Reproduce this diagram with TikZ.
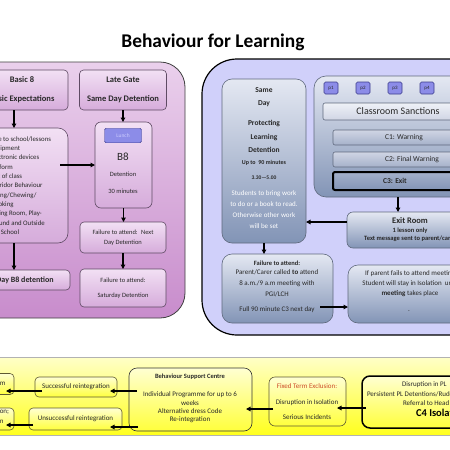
\documentclass[tikz,border=0pt]{standalone}
\usepackage{fontspec}
\setmainfont{Carlito}
\usetikzlibrary{calc,arrows.meta}
\definecolor{txt}{RGB}{40,40,40}
\definecolor{panLT}{RGB}{234,208,236}
\definecolor{panLB}{RGB}{200,140,204}
\definecolor{pinkT}{RGB}{242,224,244}
\definecolor{pinkB}{RGB}{214,172,219}
\definecolor{pinkline}{RGB}{95,75,100}
\definecolor{lav}{RGB}{208,208,250}
\definecolor{blueT}{RGB}{228,232,242}
\definecolor{blueB}{RGB}{130,148,182}
\definecolor{blueline}{RGB}{95,105,125}
\definecolor{pfill}{RGB}{140,140,232}
\definecolor{pline}{RGB}{60,60,140}
\definecolor{cT}{RGB}{208,213,228}
\definecolor{cB}{RGB}{165,177,202}
\definecolor{yelT}{RGB}{255,255,200}
\definecolor{yelB}{RGB}{255,255,30}
\definecolor{ybT}{RGB}{255,255,210}
\definecolor{ybB}{RGB}{255,255,60}
\definecolor{yline}{RGB}{95,90,50}
\definecolor{ftred}{RGB}{205,75,40}
\newcommand\myfs[2]{\fontsize{#1}{#2}\selectfont}
\begin{document}
\begin{tikzpicture}[x=1pt,y=-1pt,
  every node/.style={inner sep=0pt,outer sep=0pt,text=txt},
  arr/.style={draw=black,line width=1.1pt,-{Triangle[length=4.5pt,width=4.5pt]}},
  pinkbox/.style={draw=pinkline,line width=0.6pt,rounded corners=4pt,top color=pinkT,bottom color=pinkB},
  bluebox/.style={draw=blueline,line width=0.6pt,rounded corners=4pt,top color=blueT,bottom color=blueB},
  pbox/.style={draw=pline,line width=0.6pt,fill=pfill,rounded corners=1.5pt,minimum width=14pt,minimum height=12pt,font=\myfs{5}{6}},
  cbox/.style={draw=blueline,line width=0.6pt,rounded corners=2pt,top color=cT,bottom color=cB,font=\myfs{7.5}{9}},
  ybox/.style={draw=yline,line width=0.6pt,rounded corners=4pt,top color=ybT,bottom color=ybB},
  smalltxt/.style={font=\myfs{7}{8}}]
\useasboundingbox (0,0) rectangle (450,450);
\fill[white] (0,0) rectangle (450,450);
\clip (0,0) rectangle (450,450);

\node[font=\myfs{19.4}{22}\bfseries,text=black] (title) at (213,42) {Behaviour for Learning};

% ---------- left panel ----------
\draw[draw=black!75,line width=0.8pt,top color=panLT,bottom color=panLB,rounded corners=25pt] (-40,62) rectangle (185,318);
\node[pinkbox,minimum width=92pt,minimum height=40pt,align=center,font=\myfs{8.5}{19}\bfseries] (basic) at (22,90) {Basic 8\\Basic Expectations};
\node[pinkbox,rounded corners=10pt,minimum width=108pt,minimum height=115pt] (list) at (14,185.5) {};
\node[anchor=west,align=left,font=\myfs{6.8}{9.3}] (listtxt) at (-10,185.5) {Late to school/lessons\\Equipment\\Electronic devices\\Uniform\\Out of class\\Corridor Behaviour\\Eating/Chewing/\\Smoking\\Dining Room, Play-\\ground and Outside\\the School};
\node[pinkbox,minimum width=110pt,minimum height=20pt,font=\myfs{8}{9}\bfseries] (sameday) at (15,280) {Same Day B8 detention};

\node[pinkbox,minimum width=87pt,minimum height=40pt,align=center,font=\myfs{8.5}{19}\bfseries] (lategate) at (123,90) {Late Gate\\Same Day Detention};
\node[pinkbox,rounded corners=6pt,minimum width=57pt,minimum height=86pt] (b8) at (123.5,165) {};
\node[draw=pline,fill=pfill,rounded corners=1.5pt,minimum width=37pt,minimum height=14.5pt,font=\myfs{5.5}{6},text=white!80!blue] (lunch) at (123,135.5) {Lunch};
\node[font=\myfs{11}{12}] (b8t) at (123,157) {B8};
\node[font=\myfs{6.5}{8}] (b8d) at (123,174) {Detention};
\node[font=\myfs{6.5}{8}] (b8m) at (123,191) {30 minutes};
\node[pinkbox,minimum width=86pt,minimum height=31pt,align=center,font=\myfs{6.5}{10}] (fail1) at (123,237.5) {Failure to attend:~ Next\\Day Detention};
\node[pinkbox,minimum width=86pt,minimum height=38pt,align=center,font=\myfs{6.5}{15}] (fail2) at (123,288) {Failure to attend:\\Saturday Detention};

\draw[arr] (list.north |- basic.south) -- (list.north);
\draw[arr] (list.south) -- (list.south |- sameday.north);
\draw[arr,shorten <=-8pt] (list.east |- b8.west) -- (b8.west);
\draw[arr] (lategate.south) -- (lategate.south |- b8.north);
\draw[arr] (b8.south) -- (b8.south |- fail1.north);
\draw[arr] (fail1.south) -- (fail1.south |- fail2.north);

% ---------- right panel ----------
\draw[draw=black,line width=1.2pt,fill=lav,rounded corners=35pt] (202,59) rectangle (530,335);
\node[bluebox,rounded corners=10pt,minimum width=84pt,minimum height=164pt] (pl) at (264,161) {};
\node[font=\myfs{7.5}{13}\bfseries,align=center] (pl1) at (264,97.5) {Same\\Day};
\node[font=\myfs{7.5}{13.5}\bfseries,align=center] (pl2) at (264,136.5) {Protecting\\Learning\\Detention};
\node[font=\myfs{6}{7}\bfseries] (pl3) at (264,163) {Up to~~90 minutes};
\node[font=\myfs{5.5}{7}\bfseries] (pl4) at (264,178) {3.30—5.00};
\node[font=\myfs{7}{11},align=center,text=white] (pl5) at (264,209.5) {Students to bring work\\to do or a book to read.\\Otherwise other work\\will be set};

\node[bluebox,rounded corners=12pt,minimum width=206pt,minimum height=121pt] (sanc) at (417,136.5) {};
\node[pbox] (p1) at (331,88) {p1};
\node[pbox] (p2) at (363,88) {p2};
\node[pbox] (p3) at (395,88) {p3};
\node[pbox] (p4) at (427,88) {p4};
\node[draw=blueline,line width=0.6pt,rounded corners=2pt,top color=blueT!60!white,bottom color=cT,minimum width=150pt,minimum height=17pt,font=\myfs{10}{12}] (cs) at (398,111.5) {Classroom Sanctions};
\node[cbox,minimum width=142pt,minimum height=15pt] (c1) at (404,137.5) {C1: Warning};
\node[cbox,minimum width=158pt,minimum height=15pt] (c2) at (412,159.5) {C2: Final Warning};
\node[cbox,draw=black,line width=2pt,top color=cB,bottom color=blueB,minimum width=124pt,minimum height=18pt,font=\myfs{7.5}{9}\bfseries] (c3) at (395,181) {C3: Exit};

\node[bluebox,rounded corners=6pt,minimum width=126pt,minimum height=36pt,align=center,font=\myfs{6.5}{8.5}\bfseries] (exit) at (410,230) {{\myfs{8.5}{10}\bfseries Exit Room}\\1 lesson only\\Text message sent to parent/carer};

\node[bluebox,rounded corners=10pt,minimum width=111pt,minimum height=69pt] (fail3) at (277.5,288.5) {};
\node[font=\myfs{6.5}{8}\bfseries] (f3a) at (277,263) {Failure to attend:};
\node[font=\myfs{7}{11},align=center] (f3b) at (277,283) {Parent/Carer called \textbf{to} attend\\8 a.m./9 a.m meeting with\\PGI/LCH};
\node[smalltxt] (f3c) at (277,310) {Full 90 minute C3 next day};

\node[bluebox,rounded corners=10pt,minimum width=124pt,minimum height=58pt] (iso) at (410,294) {};
\node[font=\myfs{7}{10},align=center] (isot) at (410,284) {If parent fails to attend meeting\\Student will stay in Isolation~~until\\\textbf{meeting} takes place};
\node[smalltxt] (isod) at (409,311) {.};

\draw[arr] (sanc.south -| cs.south) -- (exit.north -| cs.south);
\draw[arr] ($(exit.west)+(0,-8)$) -- ($(pl.east |- exit.west)+(0,-8)$);
\draw[arr] (pl.south) -- (pl.south |- fail3.north);
\draw[arr] ($(fail3.east)+(-13,18.5)$) -- ($(iso.west |- fail3.east)+(0,18.5)$);

% ---------- bottom yellow panel ----------
\draw[draw=black!30,line width=0.8pt,top color=yelT,bottom color=yelB] (-10,357) rectangle (460,435);
\node[ybox,minimum width=54pt,minimum height=21pt] (box1) at (-13,384) {};
\node[anchor=east,smalltxt] (box1t) at (5.5,383) {Mainstream};
\node[ybox,minimum width=54pt,minimum height=22pt] (box2) at (-13,419) {};
\node[anchor=east,smalltxt] (box2a) at (9,412) {Alternative Provision;};
\node[anchor=east,smalltxt] (box2b) at (3.5,421) {Permanent Exclusion};
\node[ybox,minimum width=82pt,minimum height=20pt,smalltxt] (succ) at (76,387) {Successful reintegration};
\node[ybox,minimum width=93pt,minimum height=22pt,smalltxt] (unsucc) at (75.5,419) {Unsuccessful reintegration};
\node[ybox,draw=black!80,rounded corners=8pt,minimum width=123pt,minimum height=63pt] (bsc) at (190.5,399.5) {};
\node[font=\myfs{6.5}{8}\bfseries] (bsct) at (190,377) {Behaviour Support Centre};
\node[font=\myfs{7}{8.4},align=center] (bscb) at (190,407.5) {Individual Programme for up to 6\\weeks\\Alternative dress Code\\Re-integration};
\node[ybox,rounded corners=6pt,minimum width=77pt,minimum height=49pt] (fixed) at (307.5,401.5) {};
\node[smalltxt,text=ftred] (fx1) at (307,386) {Fixed Term Exclusion:};
\node[font=\myfs{7}{15},align=center] (fx2) at (307,409.5) {Disruption in Isolation\\Serious Incidents};
\node[ybox,draw=black,line width=1.5pt,rounded corners=8pt,minimum width=158pt,minimum height=52pt] (c4) at (441,402) {};
\node[anchor=west,smalltxt] (c4a) at (402,385) {Disruption in PL};
\node[anchor=west,smalltxt] (c4b) at (367,394) {Persistent PL Detentions/Rudeness};
\node[anchor=west,smalltxt] (c4c) at (403,403) {Referral to Head of Year};
\node[anchor=west,font=\myfs{10.5}{12}\bfseries,text=black] (c4d) at (416,413) {C4 Isolation};

\draw[arr] ($(c4.west)+(4,6)$) -- ($(fixed.east |- c4.west)+(-9,6)$);
\draw[arr] ($(fixed.west)+(4,7.5)$) -- ($(bsc.east |- fixed.west)+(-6,7.5)$);
\draw[arr] ($(bsc.west |- succ.east)+(8,4)$) -- ($(succ.east)+(-7,4)$);
\draw[arr] ($(bsc.west |- unsucc.east)+(9,8)$) -- ($(unsucc.east)+(-12,8)$);
\draw[arr] ($(succ.west)+(7,4)$) -- ($(box1.east |- succ.west)+(-8,4)$);
\draw[arr] ($(unsucc.west)+(4,6)$) -- ($(box2.east |- unsucc.west)+(-8,6)$);
\end{tikzpicture}
\end{document}
